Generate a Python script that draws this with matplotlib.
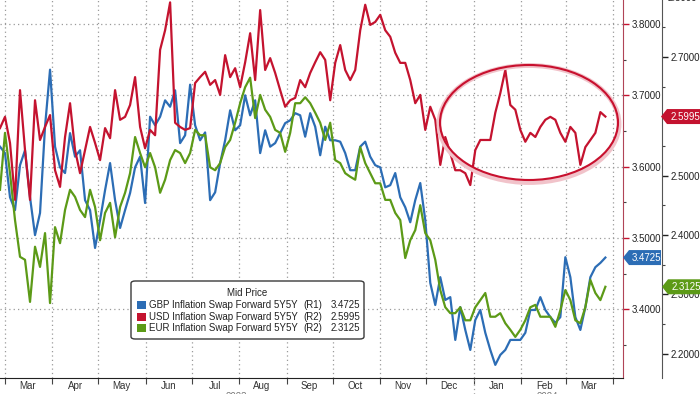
import numpy as np
import pandas as pd
import matplotlib
matplotlib.use('Agg')
import matplotlib.pyplot as plt
import matplotlib.dates as mdates
import matplotlib.ticker as ticker
import matplotlib.transforms as mtransforms
from matplotlib.patches import Ellipse, FancyBboxPatch, Polygon, Rectangle

plt.rcParams['font.family'] = ['Liberation Sans', 'DejaVu Sans']

# data, roughly every 3 days
dates = pd.date_range('2023-02-26', '2024-03-27', periods=122)

gbp = [3.628, 3.619, 3.557, 3.539, 3.602, 3.623, 3.557, 3.504, 3.535, 3.656,
       3.736, 3.628, 3.599, 3.591, 3.647, 3.614, 3.623, 3.553, 3.539, 3.486,
       3.525, 3.567, 3.605, 3.553, 3.514, 3.539, 3.563, 3.599, 3.614, 3.549,
       3.670, 3.658, 3.670, 3.693, 3.684, 3.707, 3.633, 3.644, 3.715, 3.658,
       3.637, 3.648, 3.553, 3.564, 3.605, 3.637, 3.679, 3.651, 3.658, 3.700,
       3.672, 3.693, 3.619, 3.651, 3.628, 3.633, 3.647, 3.661, 3.665, 3.675,
       3.672, 3.642, 3.675, 3.656, 3.616, 3.656, 3.637, 3.637, 3.635, 3.619,
       3.595, 3.595, 3.628, 3.635, 3.614, 3.602, 3.599, 3.571, 3.574, 3.591,
       3.557, 3.543, 3.522, 3.553, 3.577, 3.525, 3.437, 3.406, 3.445, 3.413,
       3.417, 3.357, 3.403, 3.371, 3.343, 3.385, 3.399, 3.367, 3.343, 3.322,
       3.336, 3.343, 3.357, 3.357, 3.357, 3.367, 3.399, 3.399, 3.417, 3.399,
       3.389, 3.381, 3.389, 3.473, 3.445, 3.389, 3.371, 3.403, 3.445, 3.459,
       3.465, 3.4725]

usd = [2.580, 2.599, 2.555, 2.459, 2.644, 2.543, 2.459, 2.627, 2.560, 2.582,
       2.602, 2.509, 2.481, 2.565, 2.622, 2.543, 2.504, 2.543, 2.582, 2.555,
       2.526, 2.580, 2.563, 2.644, 2.594, 2.599, 2.619, 2.666, 2.582, 2.546,
       2.577, 2.568, 2.712, 2.745, 2.792, 2.589, 2.582, 2.577, 2.580, 2.656,
       2.666, 2.675, 2.653, 2.661, 2.636, 2.703, 2.666, 2.681, 2.649, 2.691,
       2.740, 2.661, 2.779, 2.678, 2.698, 2.673, 2.644, 2.616, 2.627, 2.631,
       2.661, 2.649, 2.673, 2.691, 2.708, 2.695, 2.627, 2.690, 2.720, 2.678,
       2.661, 2.678, 2.745, 2.788, 2.754, 2.759, 2.771, 2.745, 2.734, 2.707,
       2.690, 2.690, 2.661, 2.622, 2.636, 2.577, 2.616, 2.594, 2.518, 2.565,
       2.538, 2.509, 2.509, 2.504, 2.484, 2.543, 2.560, 2.560, 2.560, 2.606,
       2.639, 2.678, 2.619, 2.611, 2.577, 2.557, 2.572, 2.565, 2.582, 2.594,
       2.599, 2.594, 2.572, 2.557, 2.582, 2.572, 2.518, 2.548, 2.560, 2.572,
       2.607, 2.5995]

eur = [2.476, 2.572, 2.504, 2.425, 2.363, 2.358, 2.287, 2.380, 2.346, 2.403,
       2.285, 2.413, 2.386, 2.442, 2.476, 2.464, 2.442, 2.430, 2.476, 2.447,
       2.391, 2.437, 2.454, 2.396, 2.447, 2.471, 2.504, 2.565, 2.538, 2.514,
       2.538, 2.514, 2.471, 2.493, 2.526, 2.543, 2.538, 2.521, 2.538, 2.577,
       2.568, 2.568, 2.514, 2.509, 2.521, 2.548, 2.560, 2.589, 2.622, 2.649,
       2.665, 2.597, 2.636, 2.611, 2.599, 2.577, 2.572, 2.540, 2.572, 2.622,
       2.622, 2.632, 2.622, 2.606, 2.589, 2.560, 2.589, 2.526, 2.521, 2.504,
       2.498, 2.493, 2.548, 2.521, 2.504, 2.487, 2.487, 2.459, 2.459, 2.437,
       2.425, 2.361, 2.391, 2.408, 2.450, 2.403, 2.391, 2.358, 2.307, 2.278,
       2.268, 2.268, 2.278, 2.256, 2.256, 2.278, 2.290, 2.302, 2.262, 2.262,
       2.268, 2.251, 2.240, 2.228, 2.240, 2.256, 2.278, 2.282, 2.262, 2.262,
       2.262, 2.245, 2.273, 2.307, 2.290, 2.256, 2.251, 2.278, 2.324, 2.302,
       2.290, 2.3125]

names = ['GBP Inflation Swap Forward 5Y5Y',
         'USD Inflation Swap Forward 5Y5Y',
         'EUR Inflation Swap Forward 5Y5Y']
axis_tags = ['(R1)', '(R2)', '(R2)']
last_vals = [3.4725, 2.5995, 2.3125]

BLUE = '#2c6db5'
RED = '#c4132f'
GREEN = '#5c9a17'
GRID = '#9a9a9a'

W, H = 700, 394


def fx(x):
    return x / W


def fy(y):
    return 1 - y / H


fig = plt.figure(figsize=(7, 3.94), dpi=100)
ax1 = fig.add_axes([0, 16 / H, 623 / W, 378 / H])
ax2 = ax1.twinx()

ax1.plot(dates, gbp, color=BLUE, lw=1.6, solid_joinstyle='round')
ax2.plot(dates, usd, color=RED, lw=1.6, solid_joinstyle='round')
ax2.plot(dates, eur, color=GREEN, lw=1.6, solid_joinstyle='round')

ax1.set_xlim(pd.Timestamp('2023-02-26'), pd.Timestamp('2024-04-07 12:00'))
ax1.set_ylim(3.3036, 3.8337)
ax2.set_ylim(2.1587, 2.796)

# spines
ax1.spines['left'].set_visible(False)
ax1.spines['top'].set_visible(False)
ax1.spines['right'].set_color('#b04457')
ax1.spines['bottom'].set_color('#222222')
for s in ['left', 'top', 'bottom']:
    ax2.spines[s].set_visible(False)
ax2.spines['right'].set_position(('axes', 662 / 623))
ax2.spines['right'].set_color('#555555')

# y axes
ax1.yaxis.tick_right()
for ax in (ax1, ax2):
    ax.yaxis.set_major_locator(ticker.MultipleLocator(0.1))
    ax.yaxis.set_minor_locator(ticker.MultipleLocator(0.05))
    ax.yaxis.set_major_formatter(ticker.FormatStrFormatter('%.4f'))
    ax.tick_params(axis='y', which='major', length=4, width=1, pad=2,
                   labelsize=7, labelcolor='#222222')
    ax.tick_params(axis='y', which='minor', length=2.5, width=0.8, color='#444444')
ax1.tick_params(axis='y', which='major', color=RED)
ax2.tick_params(axis='y', which='major', color='#222222')

# x axis: ticks at month starts, labels mid-month
ax1.xaxis.set_major_locator(mdates.MonthLocator())
ax1.xaxis.set_major_formatter(ticker.NullFormatter())
ax1.xaxis.set_minor_locator(mdates.MonthLocator(bymonthday=16))
ax1.xaxis.set_minor_formatter(mdates.DateFormatter('%b'))
ax1.tick_params(axis='x', which='major', length=4, width=0.8, color='#444444')
ax1.tick_params(axis='x', which='minor', length=0, pad=2, labelsize=7,
                labelcolor='#333333')

ax1.grid(True, which='major', axis='both', color=GRID, lw=0.9, ls=(0, (1, 2.5)))
ax2.grid(False)

# year separator going below the axis
ybl = mtransforms.blended_transform_factory(ax1.transData, ax1.transAxes)
ax1.plot([pd.Timestamp('2024-01-01')] * 2, [-16 / 378, 0], transform=ybl,
         clip_on=False, color=GRID, lw=0.9, ls=(0, (1, 2.5)))
fig.text(fx(236), fy(392), '2023', ha='center', va='top', fontsize=7, color='#777777')
fig.text(fx(547), fy(392), '2024', ha='center', va='top', fontsize=7, color='#777777')

# partly hidden top label of R2
y28 = ax2.transData.transform((0, 2.8))[1]
fig.text(fx(668), y28 / H, '2.8000', ha='left', va='center', fontsize=7, color='#222222')

# highlight ellipse
ax2.add_patch(Ellipse((529 / 623, 1 - 124 / 378), 180 / 623, 117 / 378,
                      transform=ax2.transAxes, fill=False, ec='#f1c3ca', lw=3.5,
                      zorder=3, clip_on=False))
ax2.add_patch(Ellipse((529 / 623, 1 - 122.5 / 378), 178 / 623, 115 / 378,
                      transform=ax2.transAxes, fill=False, ec='#c8102e', lw=1.5,
                      zorder=4, clip_on=False))

# legend box
fig.add_artist(FancyBboxPatch((fx(131), fy(339)), (364 - 131) / W, (339 - 281) / H,
                              boxstyle='round,pad=0,rounding_size=0.006',
                              transform=fig.transFigure, fc='white', ec='#3a3a3a',
                              lw=1, zorder=5))
fig.text(fx(247), fy(293), 'Mid Price', ha='center', va='center', fontsize=7,
         color='#222222', zorder=6)
colors = [BLUE, RED, GREEN]
for i in range(3):
    yy = 305 + 11.7 * i
    fig.add_artist(Rectangle((fx(137), fy(yy + 4)), 9 / W, 8 / H, fc=colors[i],
                             ec='none', transform=fig.transFigure, zorder=6))
    fig.text(fx(149), fy(yy), names[i], ha='left', va='center', fontsize=7,
             color='#222222', zorder=6)
    fig.text(fx(303), fy(yy), axis_tags[i], ha='left', va='center', fontsize=7,
             color='#222222', zorder=6)
    fig.text(fx(331), fy(yy), '%.4f' % last_vals[i], ha='left', va='center',
             fontsize=7, color='#222222', zorder=6)


# value tags on the axes
def value_tag(ax, value, x_tip, width, color):
    y = ax.transData.transform((0, value))[1]
    pts = np.array([(x_tip, y), (x_tip + 6, y + 7.5), (x_tip + width, y + 7.5),
                    (x_tip + width, y - 7.5), (x_tip + 6, y - 7.5)])
    pts = pts / [W, H]
    fig.add_artist(Polygon(pts, closed=True, fc=color, ec='none',
                           transform=fig.transFigure, zorder=7))
    fig.text((x_tip + 4 + width / 2) / W, y / H, '%.4f' % value, ha='center',
             va='center', fontsize=7, color='white', zorder=8)


value_tag(ax1, last_vals[0], 623, 38, BLUE)
value_tag(ax2, last_vals[1], 661, 40, RED)
value_tag(ax2, last_vals[2], 662, 40, GREEN)

fig.savefig('out.png', dpi=100)
